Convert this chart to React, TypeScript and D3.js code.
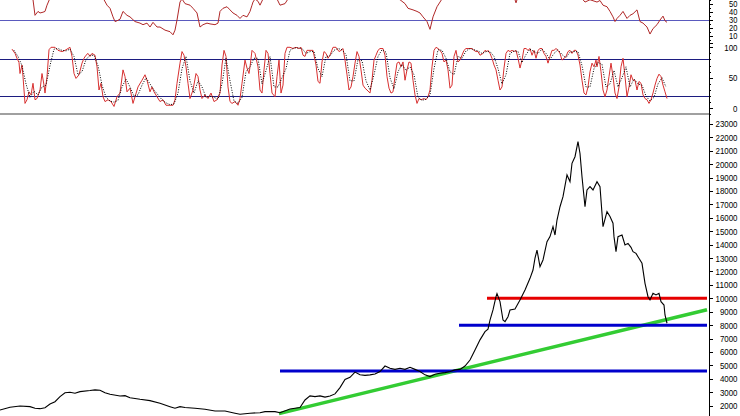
import React from "react";
import * as d3 from "d3";

// ---- Price (close) series: trading-day index and value ----
const priceDay = [0,20,40,60,70,80,90,100,110,120,130,140,150,160,180,190,200,210,220,240,250,260,280,300,320,340,350,360,370,390,410,430,450,470,480,500,520,530,550,560,580,590,600,610,620,630,640,650,660,670,680,690,700,710,720,730,740,750,760,770,780,790,800,810,820,830,840,850,860,870,880,890,900,910,920,930,940,950,960,970,976,980,986,992,994,1000,1006,1010,1016,1020,1030,1040,1050,1060,1066,1070,1074,1080,1086,1094,1100,1106,1110,1114,1120,1126,1134,1140,1144,1150,1156,1160,1164,1170,1174,1180,1186,1194,1200,1206,1214,1220,1226,1228,1232,1236,1244,1250,1256,1262,1266,1272,1276,1284,1290,1296,1300,1306,1312,1318,1322,1328,1330,1334];
const priceClose = [1670,1880,1970,1920,1800,1770,1840,2120,2290,2670,2960,2990,2920,3040,3120,3170,3140,2960,2840,2720,2740,2590,2470,2370,2170,1920,1800,1920,1860,1800,1730,1600,1600,1430,1350,1430,1470,1550,1550,1470,1750,1800,1850,2420,2720,2670,2720,2630,2720,2870,3340,3950,4110,4500,4300,4250,4290,4350,4540,4950,4780,4700,4780,4700,4860,4700,4540,4290,4160,4340,4410,4460,4540,4660,4700,4950,5400,6150,6900,7510,7700,8380,9130,10120,10350,9750,8380,8260,8630,9130,9200,9880,10620,11490,12110,12990,13600,12360,12860,14220,14600,15340,14720,15840,16830,17580,19200,18700,20070,20560,21680,20800,19070,16830,18080,18330,18080,18700,18330,15340,16460,16100,15600,14600,13480,14600,14720,13980,14100,13800,13480,13350,13100,12610,11120,10120,9880,10370,10250,10370,9750,9500,8760,8140];

// ---- RSI (top panel) ----
const rsiDay = [0,40,60,66,70,76,80,86,90,94,100,120,160,200,208,214,220,226,230,234,240,246,254,260,270,280,286,294,300,306,314,320,330,340,346,350,354,360,364,370,380,386,394,400,406,414,420,430,436,440,446,454,460,466,474,480,486,494,500,504,506,510,516,520,526,540,554,560,570,576,600,680,760,796,800,810,816,826,834,840,846,854,860,866,874,880,884,920,1000,1028,1032,1036,1100,1160,1166,1170,1180,1194,1200,1206,1214,1220,1226,1230,1234,1240,1246,1254,1260,1266,1274,1280,1286,1294,1300,1306,1314,1320,1326,1330,1334];
const rsiValue = [62,64,60,56,36,41,39,40,41,49,58,66,68,62,56,49,45,34,28,29,31,41,36,34,28,26,24,26,21,27,21,21,17,15,11,17,30,53,57,51,49,45,39,21,24,26,25,24,26,41,45,47,43,39,36,32,36,34,41,49,53,57,54,49,57,62,57,49,51,57,64,66,64,57,56,51,45,43,41,39,34,28,18,34,47,53,57,64,66,60,52,60,66,60,56,53,56,53,55,49,47,41,34,28,32,36,41,32,36,38,43,28,26,21,12,19,24,30,35,29,27];

// ---- Stochastic %K (solid) ----
const stochDay = [24,30,34,38,40,44,46,50,54,58,62,66,70,74,80,84,88,90,94,98,102,110,116,124,130,140,144,148,152,158,164,168,172,176,180,184,190,194,198,202,206,210,216,222,228,234,240,246,250,254,260,266,270,276,284,290,294,300,304,308,314,320,326,332,340,346,350,354,360,364,368,372,376,380,386,392,396,400,404,410,416,422,428,434,440,444,448,452,456,460,464,470,476,480,484,490,494,498,500,504,510,516,520,524,528,532,536,540,544,550,554,558,562,566,570,574,580,586,592,598,602,606,610,614,620,626,632,636,640,644,648,652,656,660,666,672,678,682,686,690,694,698,702,706,710,714,718,722,726,730,734,740,744,748,752,756,760,766,770,774,778,782,786,790,794,798,802,806,810,814,818,822,826,830,834,838,842,848,852,856,860,864,868,872,876,880,884,888,892,896,900,904,908,912,916,920,924,928,932,936,940,944,948,952,956,960,966,970,974,976,980,984,988,992,996,1000,1004,1008,1012,1016,1020,1024,1028,1032,1036,1040,1044,1048,1052,1056,1060,1064,1068,1072,1076,1080,1084,1088,1092,1096,1100,1104,1108,1112,1116,1120,1124,1128,1132,1136,1140,1144,1148,1152,1156,1160,1164,1168,1172,1176,1180,1184,1188,1192,1194,1198,1202,1206,1210,1214,1218,1222,1226,1230,1234,1238,1242,1246,1250,1254,1258,1262,1266,1270,1274,1278,1282,1286,1290,1294,1298,1302,1306,1310,1314,1318,1322,1326,1330,1334];
const stochK = [97,90,82,75,57,71,52,8,14,27,22,41,14,16,30,57,38,25,52,96,100,100,95,93,95,100,85,57,49,55,74,82,87,90,85,90,87,68,30,41,19,11,14,11,3,19,25,63,52,27,33,8,19,35,46,55,46,27,35,27,19,11,14,5,5,5,14,41,74,93,87,68,41,16,30,57,52,30,16,22,16,25,11,14,25,71,95,85,35,11,8,11,5,16,41,79,66,57,68,95,90,68,30,25,63,95,90,57,25,19,52,79,25,38,90,100,100,98,100,98,100,87,85,95,95,95,71,44,41,76,93,90,82,87,100,100,93,95,98,79,55,30,35,52,74,93,85,63,38,33,30,25,46,79,87,95,98,98,87,52,33,25,27,52,74,76,68,76,46,63,76,74,46,22,8,16,14,16,14,19,30,68,95,100,98,95,90,76,79,63,33,38,85,95,76,79,87,95,98,98,98,98,95,93,93,87,90,95,93,95,90,82,71,63,46,30,35,66,90,95,93,95,93,95,82,66,79,98,98,95,98,87,95,82,95,98,98,90,85,74,85,95,95,98,95,90,79,82,85,93,95,90,95,95,87,71,46,25,22,35,60,74,68,79,68,85,60,30,19,30,52,74,52,25,16,35,68,82,52,19,35,55,46,46,30,44,41,22,16,14,8,14,25,38,49,56,52,38,27,16];

// ---- Stochastic %D (dotted) ----
const signalDay = [28,36,44,52,60,68,76,84,92,100,108,116,124,132,140,148,156,164,172,180,188,196,204,212,220,228,236,244,252,260,268,276,284,292,300,308,316,324,332,340,348,356,364,372,380,388,396,404,412,420,428,436,444,452,460,468,476,484,492,500,508,516,524,532,540,548,556,564,572,580,588,596,604,612,620,628,636,644,652,660,668,676,684,692,700,708,716,724,732,740,748,756,764,772,780,788,796,804,812,820,828,836,844,852,860,868,876,884,892,900,908,916,924,932,940,948,956,964,972,980,988,996,1004,1012,1020,1028,1036,1044,1052,1060,1068,1076,1084,1092,1100,1108,1116,1124,1132,1140,1148,1156,1164,1172,1180,1188,1196,1204,1212,1220,1228,1236,1244,1252,1260,1268,1276,1284,1292,1300,1308,1316,1324,1332];
const signalD = [95,85,70,40,18,28,22,35,38,70,97,98,95,94,97,85,55,60,80,87,87,70,38,18,12,10,13,35,48,35,20,22,38,50,40,30,22,14,9,6,7,25,65,85,45,25,45,35,18,20,18,15,40,82,45,12,8,18,60,68,82,82,40,62,85,35,35,50,65,95,99,99,98,90,93,93,65,52,85,86,95,98,96,88,45,45,80,78,45,30,55,85,96,92,50,32,60,72,62,68,55,18,13,15,22,65,96,95,82,60,55,85,82,94,98,96,94,90,93,93,85,65,40,55,90,94,93,75,88,97,93,90,97,90,80,90,96,88,83,92,93,93,70,35,35,65,75,72,35,40,62,35,50,68,35,48,40,38,20,12,18,40,50,35];

// ---- Levels drawn on the price panel ----
const resistanceLevel = { value: 10000, fromDay: 974, toDay: 1414 };
const supportLevels = [
  { value: 8000, fromDay: 918, toDay: 1414 },
  { value: 4580, fromDay: 560, toDay: 1414 },
];
const trendline = { fromDay: 558, fromValue: 1400, toDay: 1414, toValue: 9150 };

// ---- Axis ticks ----
const priceTicks = d3.range(1000, 24000, 1000);
const rsiTicks = d3.range(0, 60, 5);
const rsiLabels = [10, 20, 30, 40, 50];
const rsiGuide = [30];
const stochTicks = d3.range(-10, 110, 10);
const stochLabels = [0, 50, 100];
const stochGuides = [20, 80];

export default function App() {
  const W = 740, H = 416;
  const axisX = 709;
  const x = d3.scaleLinear().domain([0, 1418]).range([0, axisX]);
  const yRsi = d3.scaleLinear().domain([0, 100]).range([43.4, -34.6]);
  const yStoch = d3.scaleLinear().domain([0, 100]).range([108.3, 47.3]);
  const yPrice = d3.scaleLinear().domain([0, 23000]).range([432.4, 124]);

  const mk = (days: number[], y: d3.ScaleLinear<number, number>) =>
    d3.line<number>().x((_, i) => x(days[i])).y((d) => y(d));

  const pricePath = mk(priceDay, yPrice)(priceClose) || "";
  const rsiPath = mk(rsiDay, yRsi)(rsiValue) || "";
  const kPath = mk(stochDay, yStoch)(stochK) || "";
  const dPath = mk(signalDay, yStoch)(signalD) || "";

  const font = "'Liberation Sans', Arial, sans-serif";
  const label = (v: number, yy: number, key: string, size: number, perChar: number) => {
    const s = String(v);
    return (
      <text key={key} x={737.5} y={yy} dy="0.36em" textAnchor="end" fontSize={size}
        fontFamily={font} fill="#000" textLength={s.length * perChar} lengthAdjust="spacingAndGlyphs">{s}</text>
    );
  };

  return (
    <svg width={W} height={H} style={{ position: "absolute", left: 0, top: 0, background: "#fff" }}>
      <rect x={0} y={0} width={W} height={H} fill="#fff" />
      <defs>
        <clipPath id="plotClip"><rect x={0} y={0} width={axisX} height={H} /></clipPath>
        <clipPath id="rsiClip"><rect x={0} y={0} width={axisX} height={46} /></clipPath>
      </defs>

      {/* RSI panel */}
      {rsiGuide.map((v) => (
        <line key={"rg" + v} x1={0} x2={axisX} y1={yRsi(v)} y2={yRsi(v)} stroke="#5a5abe" strokeWidth={1} shapeRendering="crispEdges" />
      ))}
      <path d={rsiPath} fill="none" stroke="#b02828" strokeWidth={1} clipPath="url(#rsiClip)" />

      {/* Stochastic panel */}
      {stochGuides.map((v) => (
        <line key={"sg" + v} x1={0} x2={axisX} y1={yStoch(v)} y2={yStoch(v)} stroke="#1c1c80" strokeWidth={1} shapeRendering="crispEdges" />
      ))}
      <path d={kPath} fill="none" stroke="#d83030" strokeWidth={1} />
      <path d={dPath} fill="none" stroke="#000" strokeWidth={1} strokeDasharray="1 1.5" />

      {/* separator */}
      <line x1={0} x2={axisX} y1={114} y2={114} stroke="#a0a0a0" strokeWidth={2} shapeRendering="crispEdges" />

      {/* Price panel */}
      <g clipPath="url(#plotClip)">
        <line x1={x(trendline.fromDay)} y1={yPrice(trendline.fromValue)} x2={x(trendline.toDay)} y2={yPrice(trendline.toValue)}
          stroke="#33cc33" strokeWidth={3.5} />
        {supportLevels.map((l, i) => (
          <line key={"sl" + i} x1={x(l.fromDay)} x2={x(l.toDay)} y1={yPrice(l.value)} y2={yPrice(l.value)} stroke="#0000cc" strokeWidth={3} />
        ))}
        <line x1={x(resistanceLevel.fromDay)} x2={x(resistanceLevel.toDay)} y1={yPrice(resistanceLevel.value)} y2={yPrice(resistanceLevel.value)}
          stroke="#e60000" strokeWidth={3} />
        <path d={pricePath} fill="none" stroke="#000" strokeWidth={1.1} />
      </g>

      {/* Right axis */}
      <line x1={axisX + 0.5} x2={axisX + 0.5} y1={0} y2={H} stroke="#000" strokeWidth={1} />
      {rsiTicks.map((v) => (
        <line key={"rt" + v} x1={axisX} x2={axisX + (v % 10 === 0 ? 4 : 2)} y1={Math.round(yRsi(v)) + 0.5} y2={Math.round(yRsi(v)) + 0.5} stroke="#000" />
      ))}
      {rsiLabels.map((v) => label(v, yRsi(v), "rl" + v, 8.5, 4.2))}
      {stochTicks.map((v) => (
        <line key={"st" + v} x1={axisX} x2={axisX + (v % 50 === 0 ? 4 : 2)} y1={Math.round(yStoch(v)) + 0.5} y2={Math.round(yStoch(v)) + 0.5} stroke="#000" />
      ))}
      {stochLabels.map((v) => label(v, yStoch(v), "sl" + v, 9.5, 4.4))}
      {priceTicks.map((v) => (
        <line key={"pt" + v} x1={axisX} x2={axisX + 4} y1={Math.round(yPrice(v)) + 0.5} y2={Math.round(yPrice(v)) + 0.5} stroke="#000" />
      ))}
      {priceTicks.map((v) => label(v, yPrice(v), "pl" + v, 9.5, 4.4))}
    </svg>
  );
}
